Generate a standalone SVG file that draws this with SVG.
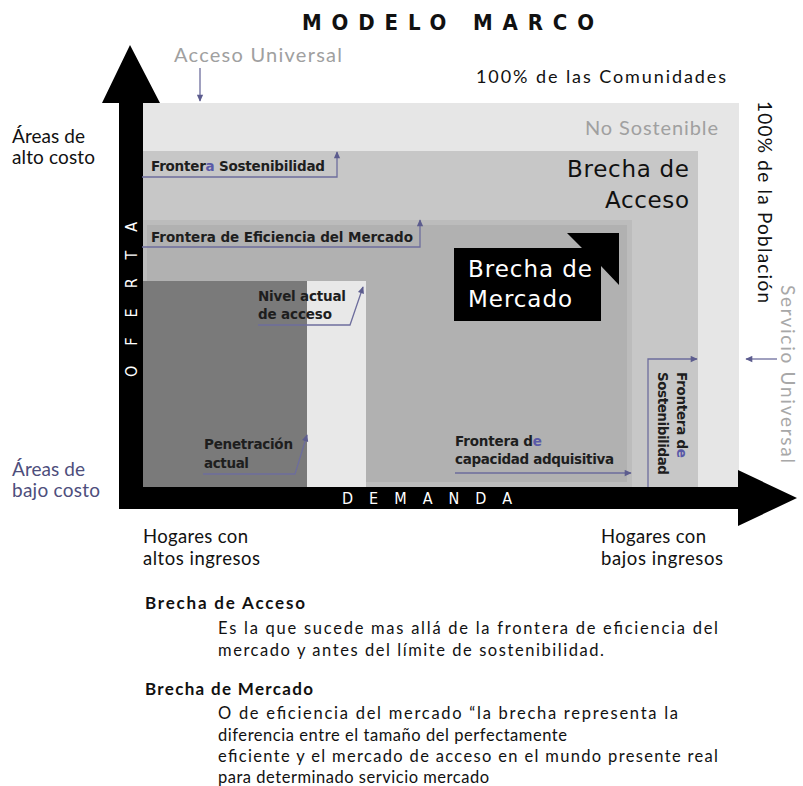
<svg xmlns="http://www.w3.org/2000/svg" width="803" height="786" viewBox="0 0 803 786">
<style>
.cnd{font-family:Lato,"DejaVu Sans Condensed","Liberation Sans",sans-serif}
.ttl{font-family:"DejaVu Sans Condensed","DejaVu Sans","Liberation Sans",sans-serif;font-stretch:condensed}
.lbl{font-family:"DejaVu Sans","Liberation Sans",sans-serif;font-weight:bold;font-size:13.5px;fill:#1e1e1e}
.big{font-family:"DejaVu Sans","Liberation Sans",sans-serif;font-size:23px}
.body{font-family:Lato,"Open Sans","Liberation Sans",sans-serif;font-size:16.5px;fill:#111}
.head{font-family:Lato,"Open Sans","Liberation Sans",sans-serif;font-size:17px;font-weight:bold;fill:#111}
.conn{fill:none;stroke:#6d6d9d;stroke-width:1.3}
.blue{fill:#5a5aa8}
.axis{fill:#000}
.axt{font-family:"DejaVu Sans Condensed","DejaVu Sans",sans-serif;font-stretch:condensed;font-size:16px;fill:#fff}
</style>
<defs>
<marker id="ah" viewBox="0 0 10 10" refX="9" refY="5" markerWidth="8" markerHeight="7" orient="auto" markerUnits="userSpaceOnUse">
<path d="M0,0.5 L10,5 L0,9.5 z" fill="#5c5c8e"/>
</marker>
</defs>
<rect width="803" height="786" fill="#fff"/>

<g id="title">
<text class="ttl" x="302" y="30" font-size="22" font-weight="bold" textLength="292" lengthAdjust="spacing" fill="#111">MODELO MARCO</text>
</g>

<g id="no-sostenible">
<rect x="143" y="103" width="596" height="384" fill="#e6e6e6"/>
<text class="cnd" x="718" y="135" font-size="20" text-anchor="end" fill="#a0a0a0" textLength="133" lengthAdjust="spacing">No Sostenible</text>
</g>

<g id="brecha-acceso">
<rect x="143" y="151" width="555" height="336" fill="#c7c7c7"/>
<text class="big" x="689" y="177" text-anchor="end" fill="#111" textLength="122" lengthAdjust="spacing">Brecha de</text>
<text class="big" x="689" y="208" text-anchor="end" fill="#111" textLength="84" lengthAdjust="spacing">Acceso</text>
</g>

<g id="eficiencia">
<rect x="143" y="220" width="489" height="267" fill="#bcbcbc"/>
<rect x="147" y="225" width="480" height="257" fill="#b1b1b1"/>
</g>

<g id="penetracion">
<rect x="143" y="281" width="164" height="206" fill="#7a7a7a"/>
</g>

<g id="nivel-acceso">
<rect x="307" y="281" width="59" height="206" fill="#e8e8e8"/>
</g>

<g id="brecha-mercado">
<polygon points="454,248 582,248 567,233 619,233 619,285 601,266 601,321 454,321" fill="#000"/>
<text class="big" x="468" y="277" fill="#fff" textLength="124" lengthAdjust="spacing">Brecha de</text>
<text class="big" x="468" y="307" fill="#fff" textLength="104" lengthAdjust="spacing">Mercado</text>
</g>

<g id="axes">
<polygon class="axis" points="102,103 130,45 160,103 143,103 143,487 738,487 738,470 797,498 738,526 738,509 119,509 119,103"/>
<text class="axt" transform="translate(137,377) rotate(-90)" textLength="155" lengthAdjust="spacing">OFERTA</text>
<text class="axt" x="342" y="504" textLength="170" lengthAdjust="spacing">DEMANDA</text>
</g>

<g id="connectors">
<path class="conn" d="M200,68 V101" marker-end="url(#ah)"/>
<path class="conn" d="M142,177 H337 V152" marker-end="url(#ah)"/>
<path class="conn" d="M142,247 H420 V220" marker-end="url(#ah)"/>
<path class="conn" d="M258,325 H350 L363,287" marker-end="url(#ah)"/>
<path class="conn" d="M203,474 H295 L307,435" marker-end="url(#ah)"/>
<path class="conn" d="M455,473 H631" marker-end="url(#ah)"/>
<path class="conn" d="M648,487 V359 H697" marker-end="url(#ah)"/>
<path class="conn" d="M777,359 H746" marker-end="url(#ah)"/>
</g>

<g id="labels-top">
<text class="cnd" x="174" y="62" font-size="20" fill="#a0a0a0" textLength="168" lengthAdjust="spacing">Acceso Universal</text>
<text class="cnd" x="476" y="83" font-size="18" fill="#111" textLength="250" lengthAdjust="spacing">100%  de  las  Comunidades</text>
</g>

<g id="labels-left">
<text class="cnd" x="12" y="143" font-size="19" fill="#111" textLength="73" lengthAdjust="spacing">Áreas de</text>
<text class="cnd" x="12" y="164" font-size="19" fill="#111" textLength="83" lengthAdjust="spacing">alto costo</text>
<text class="cnd" x="12" y="476" font-size="19" fill="#4e4e7c" textLength="73" lengthAdjust="spacing">Áreas de</text>
<text class="cnd" x="12" y="497" font-size="19" fill="#4e4e7c" textLength="88" lengthAdjust="spacing">bajo costo</text>
</g>

<g id="labels-right">
<text class="cnd" transform="translate(758,101) rotate(90)" font-size="19" fill="#111" textLength="202" lengthAdjust="spacing">100%  de  la  Población</text>
<text class="cnd" transform="translate(781,285) rotate(90)" font-size="19" fill="#a8a8a8" textLength="178" lengthAdjust="spacing">Servicio Universal</text>
</g>

<g id="labels-inner">
<text class="lbl" x="151" y="171" textLength="174" lengthAdjust="spacing">Fronter<tspan class="blue">a</tspan> Sostenibilidad</text>
<text class="lbl" x="151" y="242" textLength="262" lengthAdjust="spacing">Frontera de Eficiencia del Mercado</text>
<text class="lbl" x="258" y="301" textLength="88" lengthAdjust="spacing">Nivel actual</text>
<text class="lbl" x="258" y="319" textLength="74" lengthAdjust="spacing">de acceso</text>
<text class="lbl" x="204" y="449" textLength="89" lengthAdjust="spacing">Penetración</text>
<text class="lbl" x="204" y="468" textLength="45" lengthAdjust="spacing">actual</text>
<text class="lbl" x="455" y="446" textLength="87" lengthAdjust="spacing">Frontera d<tspan class="blue">e</tspan></text>
<text class="lbl" x="455" y="464" textLength="159" lengthAdjust="spacing">capacidad adquisitiva</text>
<text class="lbl" transform="translate(677,372) rotate(90)" textLength="86" lengthAdjust="spacing">Frontera d<tspan class="blue">e</tspan></text>
<text class="lbl" transform="translate(658,372) rotate(90)" textLength="103" lengthAdjust="spacing">Sostenibilidad</text>
</g>

<g id="labels-bottom">
<text class="cnd" x="143" y="543" font-size="18.5" fill="#111" textLength="105" lengthAdjust="spacing">Hogares con</text>
<text class="cnd" x="143" y="565" font-size="18.5" fill="#111" textLength="117" lengthAdjust="spacing">altos ingresos</text>
<text class="cnd" x="601" y="543" font-size="18.5" fill="#111" textLength="105" lengthAdjust="spacing">Hogares con</text>
<text class="cnd" x="601" y="565" font-size="18.5" fill="#111" textLength="122" lengthAdjust="spacing">bajos ingresos</text>
</g>

<g id="definiciones">
<text class="head" x="145" y="609" textLength="160" lengthAdjust="spacing">Brecha de Acceso</text>
<text class="body" x="218" y="634" textLength="500" lengthAdjust="spacing">Es la  que  sucede  mas  allá  de la  frontera  de  eficiencia del</text>
<text class="body" x="218" y="656" textLength="386" lengthAdjust="spacing">mercado y antes del límite  de sostenibilidad.</text>
<text class="head" x="145" y="695" textLength="168" lengthAdjust="spacing">Brecha de Mercado</text>
<text class="body" x="218" y="719" textLength="460" lengthAdjust="spacing">O  de  eficiencia  del  mercado “la  brecha representa la</text>
<text class="body" x="218" y="741" textLength="349" lengthAdjust="spacing">diferencia  entre el  tamaño del perfectamente</text>
<text class="body" x="218" y="762" textLength="500" lengthAdjust="spacing">eficiente  y el mercado  de acceso  en el  mundo presente real</text>
<text class="body" x="218" y="783" textLength="271" lengthAdjust="spacing">para determinado  servicio  mercado</text>
</g>
</svg>
